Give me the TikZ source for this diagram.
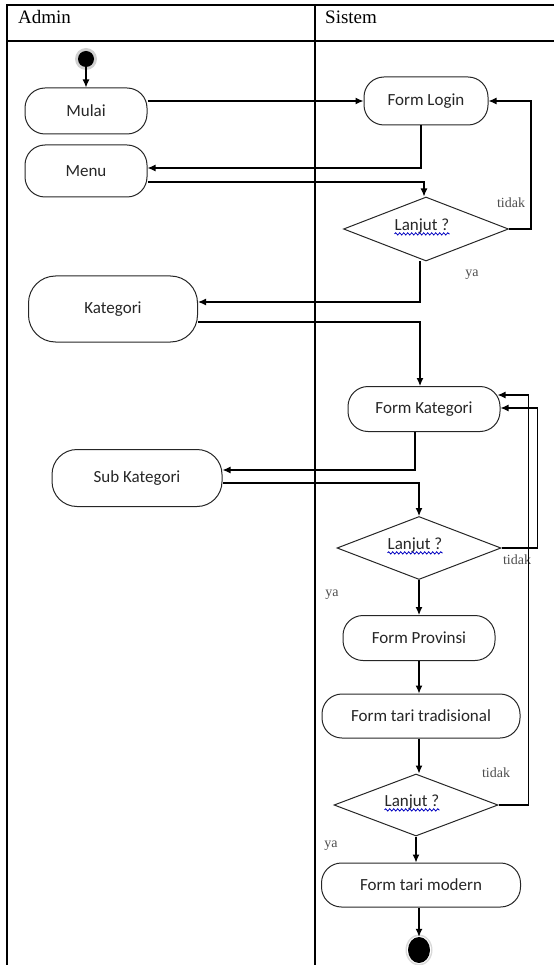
\documentclass[tikz,border=0pt]{standalone}
\usepackage{fontspec}
\setmainfont{Liberation Serif}
\newfontfamily\nodefont{Carlito}
\usetikzlibrary{shapes.geometric,arrows.meta,decorations.pathmorphing,calc}
\begin{document}
\begin{tikzpicture}[x=1pt,y=-1pt,
  frame/.style={line width=1.4pt, draw=black},
  act/.style={draw=black!85, line width=1pt, rectangle, rounded corners=20pt, inner sep=0pt,
    font=\nodefont\fontsize{17}{20}\selectfont, text=black!85},
  dec/.style={draw=black!85, line width=1pt, diamond, inner sep=0pt},
  dectext/.style={font=\nodefont\fontsize{17}{20}\selectfont, text=black!85, inner sep=0pt},
  arr/.style={line width=1.2pt, -{Latex[length=8pt,width=7pt]}},
  lbl/.style={font=\fontsize{14}{16}\selectfont, text=black!70, inner sep=0pt},
  hdr/.style={font=\fontsize{19}{22}\selectfont, anchor=base west, inner sep=0pt},
  squig/.style={draw=blue!75!black, line width=0.8pt, decorate,
    decoration={snake, amplitude=1.1pt, segment length=4pt}}
]
\useasboundingbox (0,0) rectangle (554,965);
% frame
\coordinate (ftl) at (7,5);
\coordinate (ftr) at (554,5);
\coordinate (fhl) at (7,41);
\coordinate (fhr) at (554,41);
\coordinate (fbl) at (7,965);
\coordinate (dtop) at (315,5);
\coordinate (dbot) at (315,965);
\draw[frame] (ftr) -- (ftl) -- (fbl);
\draw[frame] (fhl) -- (fhr);
\draw[frame] (dtop) -- (dbot);
\node[hdr] (hadmin) at (18,24) {Admin};
\node[hdr] (hsistem) at (325,24) {Sistem};

% start
\fill[black!18] (86,59) circle (11);
\node[circle, fill=black, minimum size=16pt, inner sep=0pt] (start) at (86,59) {};

% activities
\node[act, minimum width=122pt, minimum height=46pt] (mulai) at (86,111) {Mulai};
\node[act, minimum width=122pt, minimum height=52pt] (menu) at (86,171) {Menu};
\node[act, minimum width=124pt, minimum height=48pt] (login) at (426,101) {Form Login};
\node[act, minimum width=169pt, minimum height=66pt, rounded corners=27pt] (kat) at (113,309) {Kategori};
\node[act, minimum width=152pt, minimum height=45pt] (fk) at (424,409) {Form Kategori};
\node[act, minimum width=170pt, minimum height=57pt, rounded corners=25pt] (sub) at (137,478) {Sub Kategori};
\node[act, minimum width=152pt, minimum height=45pt] (prov) at (419,638) {Form Provinsi};
\node[act, minimum width=198pt, minimum height=44pt] (ftt) at (421,716) {Form tari tradisional};
\node[act, minimum width=199pt, minimum height=44pt] (ftm) at (421,885) {Form tari modern};

% decisions
\node[dec, minimum width=165pt, minimum height=64pt] (d1) at (426,229) {};
\node[dec, minimum width=164pt, minimum height=63pt] (d2) at (419,548) {};
\node[dec, minimum width=164pt, minimum height=62pt] (d3) at (416,805) {};
\node[dectext] (t1) at ($(d1.center)+(-4,-3)$) {Lanjut ?};
\node[dectext] (t2) at ($(d2.center)+(-4,-3)$) {Lanjut ?};
\node[dectext] (t3) at ($(d3.center)+(-4,-3)$) {Lanjut ?};
\draw[squig] ([yshift=-3.5pt]t1.base west) -- ([yshift=-3.5pt]t1.base east);
\draw[squig] ([yshift=-3.5pt]t2.base west) -- ([yshift=-3.5pt]t2.base east);
\draw[squig] ([yshift=-3.5pt]t3.base west) -- ([yshift=-3.5pt]t3.base east);

% end
\fill[black!15] (419,950) ellipse (13.5 and 15.5);
\fill[white] (419,950) ellipse (12 and 14);
\node[ellipse, fill=black, minimum width=22pt, minimum height=26pt, inner sep=0pt] (end) at (419,950) {};

% labels
\node[lbl] (tidak1) at (511,203) {tidak};
\node[lbl] (ya1) at (472,275) {ya};
\node[lbl] (tidak2) at (517,560) {tidak};
\node[lbl] (ya2) at (332,595) {ya};
\node[lbl] (tidak3) at (496,773) {tidak};
\node[lbl] (ya3) at (331,846) {ya};

% connectors
\draw[arr] (start) -- (mulai.north);
\draw[arr] (login.west -| mulai.east) -- (login.west);
\draw[arr] ([xshift=-5pt]login.south) |- ([yshift=3pt]menu.east);
\draw[arr] ([yshift=-11pt]menu.east) -| ([xshift=-2pt]d1.north);
\draw[arr] (d1.east) -- ++(22,0) |- (login.east);
\draw[arr] ([xshift=-6pt]d1.south) |- ([yshift=7pt]kat.east);
\draw[arr] ([yshift=-13pt]kat.east) -| ([xshift=-4pt]fk.north);
\draw[arr] ([xshift=-9pt]fk.south) |- ([yshift=8pt]sub.east);
\draw[arr] ([yshift=-5pt]sub.east) -| (d2.north);
\draw[arr] (d2.east) -- ++(36,0) |- ([yshift=1pt]fk.east);
\draw[arr] (d2.south) -- (prov.north);
\draw[arr] (prov.south) -- (prov.south |- ftt.north);
\draw[arr] ([xshift=-2pt]ftt.south) -- ([xshift=-2pt]ftt.south |- d3.north);
\draw[arr] (d3.east) -- ++(30,0) |- ([yshift=14pt,xshift=-3pt]fk.east);
\draw[arr] (d3.south) -- (d3.south |- ftm.north);
\draw[arr] (end.north |- ftm.south) -- (end.north);
\end{tikzpicture}
\end{document}
